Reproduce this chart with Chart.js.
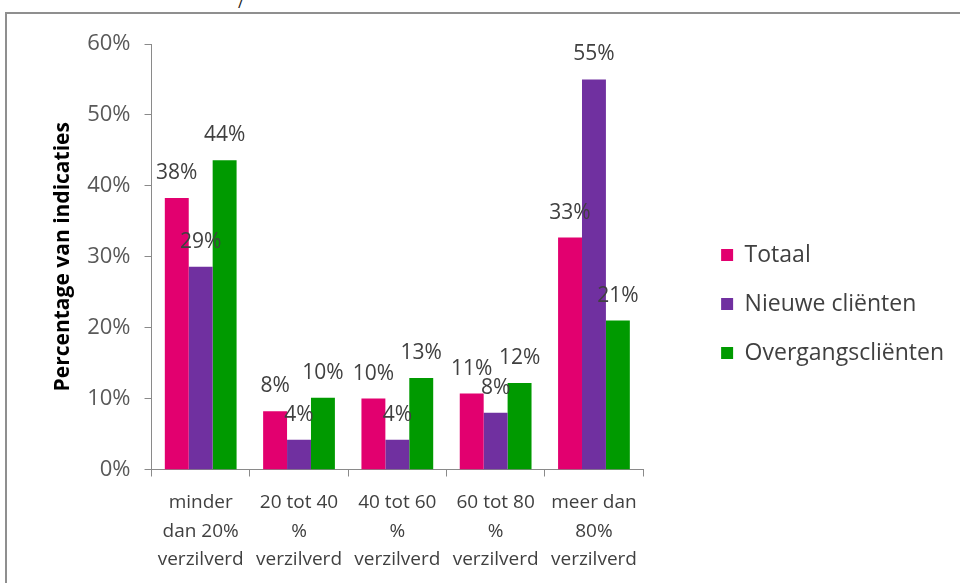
<!DOCTYPE html>
<html>
<head>
<meta charset="utf-8">
<script src="https://cdn.jsdelivr.net/npm/chart.js@4"></script>
<style>
  html, body { margin: 0; padding: 0; background: #fff; }
  #wrap { position: relative; width: 960px; height: 583px; overflow: hidden; }
  #frame { position: absolute; left: 5px; top: 12px; width: 1000px; height: 620px;
           border-top: 2px solid #8f8f8f; border-left: 2px solid #8f8f8f; }
  #cut { position: absolute; left: 238px; top: -9px; font: 16px 'Open Sans', sans-serif; color: #222; }
  canvas { position: absolute; left: 0; top: 0; }
</style>
</head>
<body>
<div id="wrap">
  <div id="frame"></div>
  <div id="cut">/</div>
  <canvas id="chart" width="960" height="583"></canvas>
</div>
<script>
// categorieën en waarden (percentages)
var categories = [
  ['minder', 'dan 20%', 'verzilverd'],
  ['20 tot 40', '%', 'verzilverd'],
  ['40 tot 60', '%', 'verzilverd'],
  ['60 tot 80', '%', 'verzilverd'],
  ['meer dan', '80%', 'verzilverd']
];
var seriesNames = ['Totaal', 'Nieuwe cliënten', 'Overgangscliënten'];
var totaal = [38.3, 8.2, 10.0, 10.7, 32.7];
var nieuwe = [28.6, 4.2, 4.2, 8.0, 55.0];
var overgang = [43.6, 10.1, 12.9, 12.2, 21.0];
var yTicks = [0, 10, 20, 30, 40, 50, 60];
var colors = ['#E2006F', '#7030A0', '#009A00'];

var FONT = "'Open Sans', 'Noto Sans', sans-serif";
var TEXT = '#404040';

// eigen plugin: waardelabels boven de staven
var valueLabels = {
  id: 'valueLabels',
  afterDatasetsDraw: function(chart) {
    var ctx = chart.ctx;
    ctx.save();
    ctx.font = '21px ' + FONT;
    ctx.fillStyle = TEXT;
    ctx.textAlign = 'center';
    ctx.textBaseline = 'middle';
    chart.data.datasets.forEach(function(ds, i) {
      chart.getDatasetMeta(i).data.forEach(function(bar, j) {
        ctx.fillText(Math.round(ds.data[j]) + '%', bar.x, bar.y - 25);
      });
    });
    ctx.restore();
  }
};

// lege as die alleen ruimte inneemt
function spacer(pos, size) {
  return {
    position: pos,
    display: true,
    grid: { display: false },
    border: { display: false },
    ticks: { display: false },
    afterFit: function(axis) {
      if (pos === 'top') axis.height = size; else axis.width = size;
    }
  };
}

new Chart(document.getElementById('chart'), {
  type: 'bar',
  data: {
    labels: categories,
    datasets: [totaal, nieuwe, overgang].map(function(d, i) {
      return {
        label: seriesNames[i],
        data: d,
        backgroundColor: colors[i],
        borderWidth: 0,
        categoryPercentage: 0.73,
        barPercentage: 1.0
      };
    })
  },
  options: {
    responsive: false,
    animation: false,
    layout: { padding: { left: 44, top: 22, right: 6, bottom: -3 } },
    plugins: {
      legend: {
        position: 'right',
        align: 'center',
        maxWidth: 400,
        labels: {
          boxWidth: 12,
          boxHeight: 12,
          padding: 26,
          color: TEXT,
          font: { family: FONT, size: 23 }
        }
      },
      tooltip: { enabled: false }
    },
    scales: {
      x: {
        offset: true,
        grid: { offset: true, drawOnChartArea: false, color: '#8a8a8a', tickLength: 7 },
        border: { color: '#8a8a8a', width: 1 },
        ticks: {
          color: TEXT,
          padding: 12,
          maxRotation: 0,
          font: { family: FONT, size: 19, lineHeight: 1.5 }
        }
      },
      xTop: spacer('top', 22),
      yRight: spacer('right', 52),
      y: {
        min: 0,
        max: 60,
        afterBuildTicks: function(axis) {
          axis.ticks = yTicks.map(function(v) { return { value: v }; });
        },
        grid: { drawOnChartArea: false, color: '#8a8a8a', tickLength: 7 },
        border: { color: '#8a8a8a', width: 1 },
        ticks: {
          color: '#595959',
          padding: 14,
          font: { family: FONT, size: 22 },
          callback: function(v) { return v + '%'; }
        },
        title: {
          display: true,
          text: 'Percentage van indicaties',
          color: '#000',
          padding: { top: 6, bottom: -2 },
          font: { family: FONT, size: 21, weight: 'bold' }
        }
      }
    }
  },
  plugins: [valueLabels]
});
</script>
</body>
</html>
